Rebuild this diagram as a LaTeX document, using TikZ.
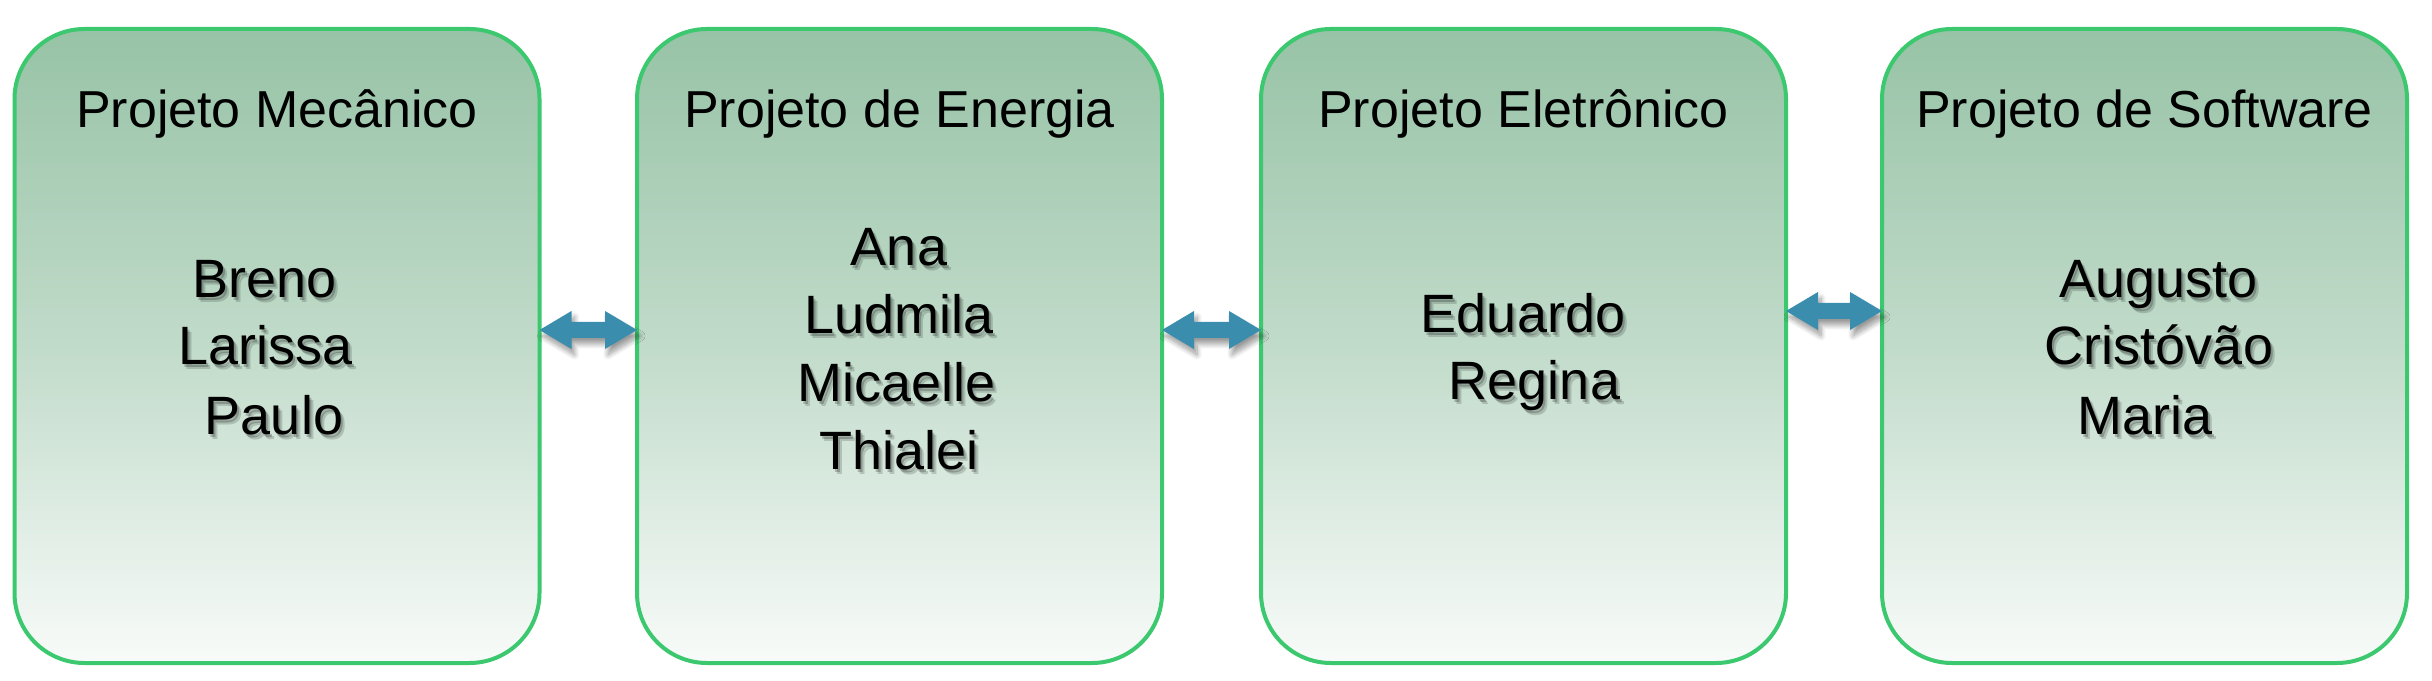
\documentclass[tikz,border=0pt]{standalone}
\usepackage{fontspec}
\setmainfont{Liberation Sans}
\usetikzlibrary{calc,shadows.blur}
\definecolor{boxtop}{HTML}{97C3A6}
\definecolor{boxmid}{HTML}{C1DBCA}
\definecolor{boxbot}{HTML}{F8FBF9}
\definecolor{boxline}{HTML}{3CC86F}
\definecolor{arrowblue}{HTML}{3B8DAE}
\newcommand\dblarrow[2]{%
  \fill[link] (#1) -- ($(#1)+(32,19)$) -- ($(#1)+(32,8)$) -- ($(#2)+(-32,8)$) -- ($(#2)+(-32,19)$) -- (#2)
    -- ($(#2)+(-32,-19)$) -- ($(#2)+(-32,-8)$) -- ($(#1)+(32,-8)$) -- ($(#1)+(32,-19)$) -- cycle;}
\newcommand\member[4]{%
  \node[member, text=black, text opacity=0.16] (#1sb) at (#2+4,#3-5) {#4};
  \node[member, text=black, text opacity=0.22] (#1sa) at (#2+2,#3-3) {#4};
  \node[member] (#1) at (#2,#3) {#4};}
\begin{document}
\begin{tikzpicture}[x=1pt,y=1pt,
  box/.style={rounded corners=70pt, draw=boxline, line width=4pt,
    top color=boxtop, bottom color=boxbot, middle color=boxmid,
    minimum width=525pt, minimum height=634pt, inner sep=0pt, outer sep=0pt},
  boxtitle/.style={anchor=base, font=\fontsize{52}{62}\selectfont, inner sep=0pt},
  member/.style={anchor=base, font=\fontsize{54}{64}\selectfont, inner sep=0pt},
  link/.style={fill=arrowblue, blur shadow={shadow xshift=3pt, shadow yshift=-6pt, shadow blur radius=5pt, shadow blur steps=10, shadow opacity=40}}
]
\useasboundingbox (0,0) rectangle (2432,680);
\node[box] (b1) at (277,334) {};
\node[box] (b2) at (899.5,334) {};
\node[box] (b3) at (1523.5,334) {};
\node[box] (b4) at (2144.5,334) {};

\node[boxtitle] (t1) at (277,552) {Projeto Mecânico};
\node[boxtitle] (t2) at (899.5,552) {Projeto de Energia};
\node[boxtitle] (t3) at (1523.5,552) {Projeto Eletrônico};
\node[boxtitle] (t4) at (2144.5,552) {Projeto de Software};

\member{m11}{264.5}{382}{Breno}
\member{m12}{265.5}{315}{Larissa}
\member{m13}{274}{245}{Paulo}

\member{m21}{899}{414}{Ana}
\member{m22}{899}{346}{Ludmila}
\member{m23}{897}{278}{Micaelle}
\member{m24}{899}{210}{Thialei}

\member{m31}{1523}{347}{Eduardo}
\member{m32}{1534.5}{280}{Regina}

\member{m41}{2158.5}{382}{Augusto}
\member{m42}{2159}{315}{Cristóvão}
\member{m43}{2145}{245}{Maria}

\coordinate (l1) at ($(b1.east)+(0,16)$);
\coordinate (r1) at ($(b2.west)+(0,16)$);
\coordinate (l2) at ($(b2.east)+(0,16)$);
\coordinate (r2) at ($(b3.west)+(0,16)$);
\coordinate (l3) at ($(b3.east)+(0,35)$);
\coordinate (r3) at ($(b4.west)+(0,35)$);
\dblarrow{l1}{r1}
\dblarrow{l2}{r2}
\dblarrow{l3}{r3}
\end{tikzpicture}
\end{document}
